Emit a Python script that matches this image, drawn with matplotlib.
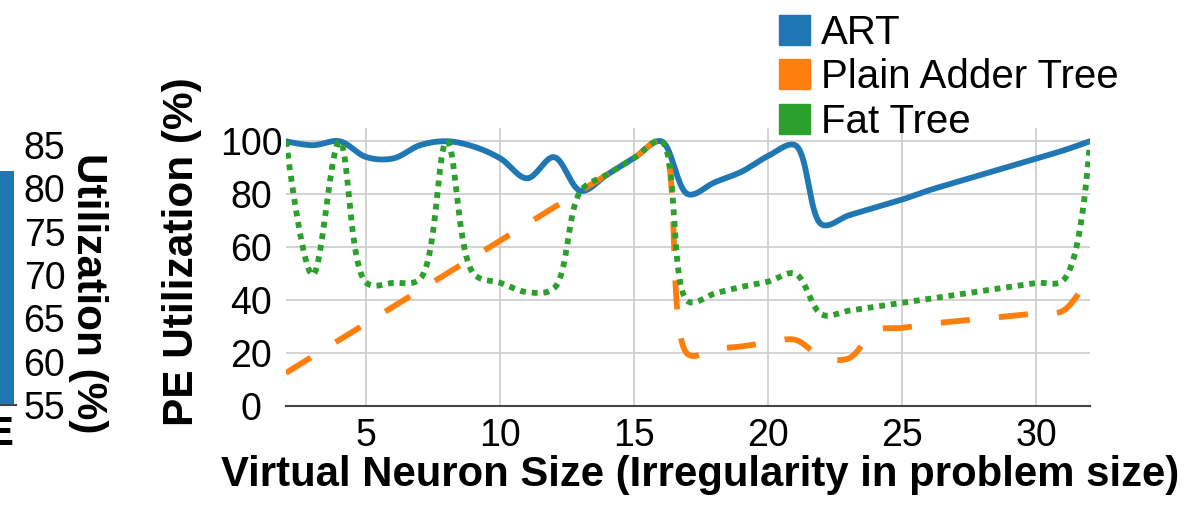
import numpy as np
import matplotlib.pyplot as plt
from matplotlib.patches import Patch

plt.rcParams['font.family'] = ['Liberation Sans', 'DejaVu Sans']

W, H = 1197, 525

# virtual neuron sizes (x axis)
sizes = list(range(2, 33))

# PE utilization (%)
art = [100, 98.5, 100, 94, 93.5, 98.5, 100, 98, 93.5, 86, 94, 81.25, 87.5, 93.75, 100,
       80, 84.5, 88.5, 94.5, 98.5, 68.5, 72,
       75, 78, 81.5, 84.5, 87.5, 90.5, 93.5, 96.5, 100]
plain = [12.5, 18.75, 25, 31.25, 37.5, 43.75, 50, 56.25, 62.5, 68.75, 75, 81.25, 87.5, 93.75, 100,
         19.5, 21.5, 22.5, 24, 25, 18.5, 18,
         28.5, 29.5, 31, 32, 33, 34, 35, 36, 50]
fat = [100, 49.5, 100, 46.5, 46.5, 48, 100, 50, 46.5, 43, 44.5, 81.25, 87.5, 93.75, 100,
       39.5, 42.5, 45, 47, 50, 34.5, 36,
       37.5, 39, 40.5, 42, 43.5, 45, 46.5, 47.5, 100]

series_names = ['ART', 'Plain Adder Tree', 'Fat Tree']
colors = ['#1f77b4', '#ff7f0e', '#2ca02c']
styles = ['-', (0, (5, 5)), (0, (1, 1))]

# leftover piece of the neighbouring panel
left_bar = [82]
left_ticks = [55, 60, 65, 70, 75, 80, 85]


def smooth(ax, xs, ys, n=40):
    # spline like the one plotly uses, worked out in pixel space
    pts = ax.transData.transform(np.column_stack([xs, ys]))
    tang = []
    for i in range(1, len(pts) - 1):
        d1 = pts[i - 1] - pts[i]
        d2 = pts[i + 1] - pts[i]
        a1 = np.hypot(*d1) ** 0.5
        a2 = np.hypot(*d2) ** 0.5
        num = a2 * a2 * d1 - a1 * a1 * d2
        tang.append((pts[i] + num / (3 * a2 * (a1 + a2)),
                     pts[i] - num / (3 * a1 * (a1 + a2))))
    t = np.linspace(0, 1, n)[:, None]
    segs = [(1 - t) ** 2 * pts[0] + 2 * (1 - t) * t * tang[0][0] + t ** 2 * pts[1]]
    for i in range(2, len(pts) - 1):
        segs.append((1 - t) ** 3 * pts[i - 1] + 3 * (1 - t) ** 2 * t * tang[i - 2][1]
                    + 3 * (1 - t) * t ** 2 * tang[i - 1][0] + t ** 3 * pts[i])
    segs.append((1 - t) ** 2 * pts[-2] + 2 * (1 - t) * t * tang[-1][1] + t ** 2 * pts[-1])
    return ax.transData.inverted().transform(np.vstack(segs))


fig = plt.figure(figsize=(W / 100, H / 100), dpi=100)

# cut-off panel on the far left
ax0 = fig.add_axes([-80 / W, (H - 405) / H, 96 / W, 260 / H])
ax0.bar([0], left_bar, width=0.8, color=colors[0])
ax0.set_xlim(-0.5, 0.42)
ax0.set_ylim(55, 85)
ax0.set_xticks([])
ax0.set_yticks(left_ticks)
ax0.yaxis.tick_right()
ax0.tick_params(axis='y', length=0, pad=20.5, labelsize=27)
for lab in ax0.get_yticklabels():
    lab.set_ha('center')
for s in ['top', 'left', 'right']:
    ax0.spines[s].set_visible(False)
ax0.spines['bottom'].set_color('#444444')
ax0.spines['bottom'].set_linewidth(1.5)
ax0.patch.set_alpha(0)
fig.text(88 / W, 1 - 293 / H, 'Utilization (%)', rotation=270, ha='center', va='center',
         fontsize=30.5, fontweight='bold')
fig.text(13 / W, 1 - 445 / H, 'E', ha='right', va='baseline', fontsize=29, fontweight='bold')

# main panel
ax = fig.add_axes([286 / W, (H - 406) / H, 804 / W, 278 / H])
ax.set_xlim(2, 32)
ax.set_ylim(0, 105)
ax.set_xticks([5, 10, 15, 20, 25, 30])
ax.set_yticks([0, 20, 40, 60, 80, 100])
ax.grid(color='#cccccc', lw=1.2)
ax.set_axisbelow(True)
ax.tick_params(length=0, labelsize=27)
ax.tick_params(axis='y', pad=25)
ax.tick_params(axis='x', pad=8.5)
for lab in ax.get_yticklabels():
    lab.set_ha('center')
for s in ['top', 'left', 'right']:
    ax.spines[s].set_visible(False)
ax.spines['bottom'].set_color('#444444')
ax.spines['bottom'].set_linewidth(1.5)

for ys, c, ls in zip([art, plain, fat], colors, styles):
    curve = smooth(ax, sizes, ys)
    ax.plot(curve[:, 0], curve[:, 1], color=c, lw=4.2, linestyle=ls,
            dash_capstyle='butt', solid_capstyle='round', solid_joinstyle='round')

fig.text(182 / W, 1 - 251.5 / H, 'PE Utilization (%)', rotation=90, ha='center', va='center',
         fontsize=30.5, fontweight='bold')
fig.text(700 / W, 1 - 486 / H, 'Virtual Neuron Size (Irregularity in problem size)',
         ha='center', va='baseline', fontsize=30.2, fontweight='bold')

handles = [Patch(color=c, label=n) for c, n in zip(colors, series_names)]
ax.legend(handles=handles, loc='upper left', bbox_to_anchor=(779 / W, 1 - 14 / H),
          bbox_transform=fig.transFigure, frameon=False, borderpad=0, borderaxespad=0,
          handlelength=0.77, handleheight=0.77, handletextpad=0.28, labelspacing=0.16,
          fontsize=29)

fig.savefig('out.png', dpi=100)
